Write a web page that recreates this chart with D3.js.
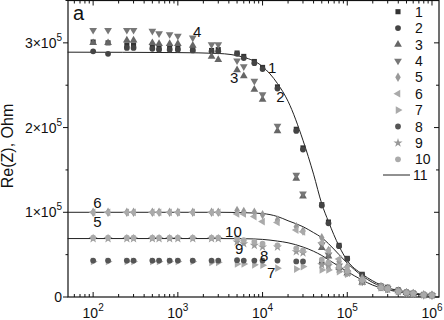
<!DOCTYPE html>
<html lang="en">
<head>
<meta charset="UTF-8"/>
<title>Re(Z) vs frequency</title>
<script src="https://d3js.org/d3.v7.min.js"></script>
<style>
	body { margin: 0; background: #fff; }
	text { font-family: Arial, "Liberation Sans", sans-serif; fill: #111; }
</style>
</head>
<body>
<script>
	var w = 444;
	var h = 320;

	// measurement frequencies, Hz
	var freq = [100, 150, 250, 300, 500, 600, 800, 1000, 1500, 2500, 3000, 5000, 6000, 8000, 10000,
		15000, 25000, 30000, 50000, 60000, 80000, 100000, 150000, 250000, 300000, 400000, 500000, 600000, 800000, 1000000];

	// Re(Z) in units of 1e5 Ohm, one array per sample
	var s1 = [3.01, 3.00, 2.975, 2.975, 2.95, 2.94, 2.94, 2.94, 2.92, 2.91, 2.92, 2.88, 2.84, 2.78, 2.71,
		2.48, 1.98, 1.76, 1.09, 0.885, 0.61, 0.456, 0.268, 0.13, 0.115, 0.083, 0.059, 0.047, 0.027, 0.024];
	var s2 = [2.90, 2.87, 2.94, 2.94, 2.93, 2.92, 2.92, 2.92, 2.91, 2.90, 2.90, 2.87, 2.82, 2.76, 2.69,
		2.46, 1.96, 1.74, 1.08, 0.87, 0.60, 0.45, 0.26, 0.125, 0.11, 0.08, 0.056, 0.045, 0.026, 0.022];
	var s3 = [3.00, 3.00, 3.03, 3.03, 3.00, 2.99, 2.99, 2.99, 2.97, 2.84, 2.80, 2.68, 2.61, 2.45, 2.33,
		1.96, 1.40, 1.19, 0.58, 0.48, 0.35, 0.28, 0.17, 0.12, 0.10, 0.07, 0.05, 0.04, 0.025, 0.02];
	var s4 = [3.15, 3.15, 3.15, 3.15, 3.14, 3.11, 3.10, 3.08, 3.06, 2.98, 2.98, 2.79, 2.72, 2.55, 2.39,
		2.02, 1.44, 1.22, 0.62, 0.50, 0.37, 0.29, 0.18, 0.12, 0.10, 0.07, 0.05, 0.04, 0.025, 0.02];
	var s5 = [1.00, 1.00, 1.00, 1.00, 1.00, 1.00, 1.00, 1.00, 1.00, 1.00, 1.00, 1.02, 1.01, 1.00, 0.97,
		0.91, 0.83, 0.78, 0.70, 0.55, 0.42, 0.36, 0.22, 0.12, 0.10, 0.07, 0.05, 0.04, 0.025, 0.02];
	var s6 = [1.00, 1.00, 1.00, 1.00, 1.00, 1.00, 1.00, 1.00, 1.00, 1.00, 1.00, 0.98, 0.98, 0.95, 0.89,
		0.88, 0.79, 0.77, 0.64, 0.55, 0.45, 0.35, 0.20, 0.11, 0.095, 0.065, 0.05, 0.04, 0.025, 0.02];
	var s7 = [0.42, 0.42, 0.42, 0.42, 0.42, 0.42, 0.42, 0.42, 0.42, 0.41, 0.41, 0.39, 0.39, 0.38, 0.375,
		0.34, 0.33, 0.36, 0.32, 0.32, 0.30, 0.27, 0.18, 0.11, 0.09, 0.065, 0.048, 0.04, 0.025, 0.02];
	var s8 = [0.43, 0.43, 0.43, 0.43, 0.43, 0.43, 0.43, 0.43, 0.43, 0.43, 0.43, 0.435, 0.43, 0.43, 0.43,
		0.43, 0.42, 0.42, 0.40, 0.39, 0.34, 0.30, 0.19, 0.11, 0.09, 0.065, 0.048, 0.04, 0.025, 0.02];
	var s9 = [0.69, 0.69, 0.69, 0.69, 0.69, 0.69, 0.69, 0.69, 0.69, 0.69, 0.69, 0.65, 0.63, 0.61, 0.59,
		0.59, 0.535, 0.52, 0.38, 0.37, 0.33, 0.28, 0.18, 0.11, 0.09, 0.065, 0.048, 0.04, 0.025, 0.02];
	var s10 = [0.70, 0.70, 0.70, 0.70, 0.70, 0.70, 0.70, 0.70, 0.70, 0.70, 0.70, 0.69, 0.67, 0.65, 0.63,
		0.61, 0.575, 0.55, 0.44, 0.41, 0.36, 0.31, 0.20, 0.11, 0.095, 0.065, 0.05, 0.04, 0.025, 0.02];

	// fitted curves (series 11)
	var fitFreq = [50, 1000, 3000, 6000, 10000, 15000, 20000, 30000, 40000, 50000, 60000, 80000,
		100000, 150000, 200000, 300000, 500000, 1000000];
	var fit1 = [2.89, 2.885, 2.875, 2.83, 2.72, 2.52, 2.31, 1.85, 1.45, 1.10, 0.89, 0.60, 0.43, 0.27, 0.19, 0.11, 0.06, 0.02];
	var fit2 = [1.00, 1.00, 1.00, 0.995, 0.985, 0.95, 0.90, 0.83, 0.76, 0.70, 0.63, 0.50, 0.40, 0.25, 0.17, 0.10, 0.05, 0.02];
	var fit3 = [0.69, 0.69, 0.69, 0.688, 0.68, 0.66, 0.64, 0.59, 0.54, 0.49, 0.44, 0.36, 0.30, 0.20, 0.14, 0.085, 0.045, 0.015];

	var yTicks = [0, 1, 2, 3];
	var seriesNames = ["1", "2", "3", "4", "5", "6", "7", "8", "9", "10"];

	var series = [
		{ v: s1, shape: d3.symbolSquare, rot: 0, size: 26, col: "#333" },
		{ v: s2, shape: d3.symbolCircle, rot: 0, size: 26, col: "#444" },
		{ v: s3, shape: d3.symbolTriangle, rot: 0, size: 26, col: "#666" },
		{ v: s4, shape: d3.symbolTriangle, rot: 180, size: 26, col: "#777" },
		{ v: s5, shape: d3.symbolDiamond, rot: 0, size: 26, col: "#999" },
		{ v: s6, shape: d3.symbolTriangle, rot: -90, size: 26, col: "#aaa" },
		{ v: s7, shape: d3.symbolTriangle, rot: 90, size: 26, col: "#aaa" },
		{ v: s8, shape: d3.symbolCircle, rot: 0, size: 26, col: "#555" },
		{ v: s9, shape: d3.symbolStar, rot: 0, size: 26, col: "#999" },
		{ v: s10, shape: d3.symbolCircle, rot: 0, size: 26, col: "#aaa" }
	];

	// plot box (plotTop, since "top" is taken by window.top)
	var plotLeft = 68, plotRight = 439, plotTop = 0.5, plotBottom = 297;

	var xScale = d3.scaleLog()
		.domain([50.5, 1.21e6])
		.range([plotLeft, plotRight]);

	var yScale = d3.scaleLinear()
		.domain([0, 3.5])
		.range([plotBottom, plotTop]);

	var svg = d3.select("body")
		.append("svg")
		.attr("width", w)
		.attr("height", h);

	//frame
	svg.append("rect")
		.attr("x", plotLeft)
		.attr("y", plotTop)
		.attr("width", plotRight - plotLeft)
		.attr("height", plotBottom - plotTop)
		.attr("fill", "none")
		.attr("stroke", "#111")
		.attr("stroke-width", 1.2);

	//x ticks, bottom and top, pointing inward
	var xt = xScale.ticks().filter(function(d) { return d >= 50.5 && d <= 1.21e6; });
	function isMajor(d) { return Math.abs(Math.log10(d) - Math.round(Math.log10(d))) < 1e-6; }

	svg.selectAll(".xtickb")
		.data(xt)
		.enter()
		.append("line")
		.attr("x1", function(d) { return xScale(d); })
		.attr("x2", function(d) { return xScale(d); })
		.attr("y1", plotBottom)
		.attr("y2", function(d) { return plotBottom - (isMajor(d) ? 5 : 3); })
		.attr("stroke", "#111");

	svg.selectAll(".xtickt")
		.data(xt)
		.enter()
		.append("line")
		.attr("x1", function(d) { return xScale(d); })
		.attr("x2", function(d) { return xScale(d); })
		.attr("y1", plotTop)
		.attr("y2", function(d) { return plotTop + (isMajor(d) ? 5 : 3); })
		.attr("stroke", "#111");

	var xLab = svg.selectAll(".xlab")
		.data(xt.filter(isMajor))
		.enter()
		.append("text")
		.attr("x", function(d) { return xScale(d); })
		.attr("y", 318)
		.attr("text-anchor", "middle")
		.style("font-size", "14px");
	xLab.append("tspan").text("10");
	xLab.append("tspan")
		.attr("dy", -7)
		.style("font-size", "10px")
		.text(function(d) { return Math.round(Math.log10(d)); });

	//y ticks: left outward, right inward
	var yMinor = d3.range(0, 3.51, 0.5);
	svg.selectAll(".ytickl")
		.data(yMinor)
		.enter()
		.append("line")
		.attr("x1", plotLeft)
		.attr("x2", function(d) { return plotLeft - (d % 1 === 0 ? 5 : 2.5); })
		.attr("y1", function(d) { return yScale(d); })
		.attr("y2", function(d) { return yScale(d); })
		.attr("stroke", "#111");

	svg.selectAll(".ytickr")
		.data(yMinor)
		.enter()
		.append("line")
		.attr("x1", plotRight)
		.attr("x2", function(d) { return plotRight - (d % 1 === 0 ? 5 : 3); })
		.attr("y1", function(d) { return yScale(d); })
		.attr("y2", function(d) { return yScale(d); })
		.attr("stroke", "#111");

	var yLab = svg.selectAll(".ylab")
		.data(yTicks)
		.enter()
		.append("text")
		.attr("x", 62)
		.attr("y", function(d) { return yScale(d) + 5; })
		.attr("text-anchor", "end")
		.style("font-size", "14px");
	yLab.append("tspan").text(function(d) { return d === 0 ? "0" : d + "\u00d710"; });
	yLab.filter(function(d) { return d !== 0; })
		.append("tspan")
		.attr("dy", -7)
		.style("font-size", "10px")
		.text("5");

	svg.append("text")
		.attr("transform", "translate(13,146) rotate(-90)")
		.attr("text-anchor", "middle")
		.style("font-size", "16px")
		.text("Re(Z), Ohm");

	svg.append("text")
		.attr("x", 73)
		.attr("y", 20)
		.style("font-size", "20px")
		.text("a");

	//fit lines
	var line = d3.line()
		.x(function(d) { return xScale(d[0]); })
		.y(function(d) { return yScale(d[1]); })
		.curve(d3.curveMonotoneX);

	[fit1, fit2, fit3].forEach(function(f) {
		svg.append("path")
			.datum(d3.zip(fitFreq, f))
			.attr("d", line)
			.attr("fill", "none")
			.attr("stroke", "#222")
			.attr("stroke-width", 1);
	});

	//data markers
	series.forEach(function(s) {
		svg.append("g")
			.selectAll("path")
			.data(d3.zip(freq, s.v))
			.enter()
			.append("path")
			.attr("d", d3.symbol().type(s.shape).size(s.size))
			.attr("transform", function(d) {
				return "translate(" + xScale(d[0]) + "," + yScale(d[1]) + ") rotate(" + s.rot + ")";
			})
			.attr("fill", s.col);
	});

	//point labels (position given as frequency / value)
	var ptLabels = [
		{ t: "1", f: 11600, v: 2.645 }, { t: "2", f: 14500, v: 2.30 }, { t: "3", f: 4140, v: 2.53 },
		{ t: "4", f: 1510, v: 3.07 }, { t: "6", f: 100, v: 1.05 }, { t: "5", f: 100, v: 0.83 },
		{ t: "10", f: 3610, v: 0.708 }, { t: "9", f: 4740, v: 0.508 }, { t: "8", f: 9300, v: 0.425 },
		{ t: "7", f: 11300, v: 0.224 }
	];
	svg.selectAll(".ptlab")
		.data(ptLabels)
		.enter()
		.append("text")
		.attr("x", function(d) { return xScale(d.f); })
		.attr("y", function(d) { return yScale(d.v); })
		.style("font-size", "15px")
		.text(function(d) { return d.t; });

	//legend
	var legend = svg.append("g");
	series.forEach(function(s, i) {
		var ly = 11.7 + i * 16.4;
		legend.append("path")
			.attr("d", d3.symbol().type(s.shape).size(s.size))
			.attr("transform", "translate(398," + ly + ") rotate(" + s.rot + ")")
			.attr("fill", s.col);
		legend.append("text")
			.attr("x", 415)
			.attr("y", ly + 5)
			.style("font-size", "14px")
			.text(seriesNames[i]);
	});
	legend.append("line")
		.attr("x1", 383)
		.attr("x2", 410)
		.attr("y1", 175)
		.attr("y2", 175)
		.attr("stroke", "#222");
	legend.append("text")
		.attr("x", 413)
		.attr("y", 180)
		.style("font-size", "14px")
		.text("11");
</script>
</body>
</html>
